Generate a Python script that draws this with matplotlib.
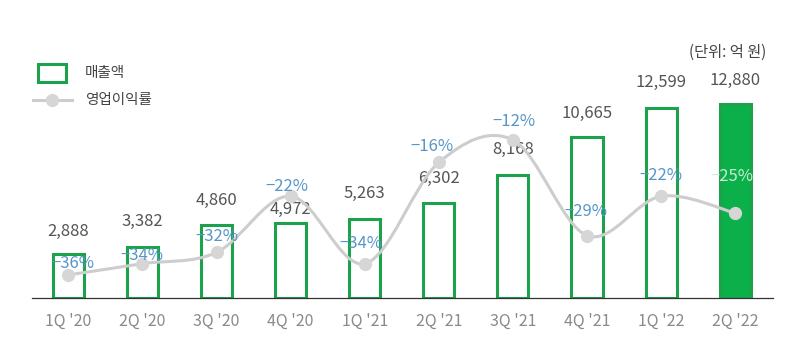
import numpy as np
import matplotlib
matplotlib.use("Agg")
import matplotlib.pyplot as plt
from matplotlib.path import Path
from matplotlib.patches import PathPatch, Rectangle
from matplotlib.lines import Line2D

plt.rcParams['font.family'] = ['Noto Sans CJK KR', 'DejaVu Sans']
plt.rcParams['font.weight'] = 'light'

# data
quarters = ["1Q '20", "2Q '20", "3Q '20", "4Q '20", "1Q '21",
            "2Q '21", "3Q '21", "4Q '21", "1Q '22", "2Q '22"]
revenue = [2888, 3382, 4860, 4972, 5263, 6302, 8168, 10665, 12599, 12880]
margin = [-36, -34, -32, -22, -34, -16, -12, -29, -22, -25]

# label placement (pixels), not data
rev_dy = [23, 25, 24, 13, 25, 24, 25, 24, 25, 23]
pct_off = [(5, 11), (-1, 8), (0, 16), (-4, 10), (-4, 20),
           (-7, 16), (1, 18), (-1, 24), (0, 21), (-3, 37)]

GREEN_EDGE = '#1ba24a'
GREEN_FILL = '#0cb04a'
LINE_GRAY = '#cdcdcd'
BLUE = '#5796c8'

W, H = 800, 355
fig = plt.figure(figsize=(W / 100, H / 100), dpi=100)
ax = fig.add_axes([32 / W, (H - 298) / H, (773 - 32) / W, 278 / H])
ax2 = ax.twinx()

x = np.arange(len(quarters))
faces = ['white'] * (len(x) - 1) + [GREEN_FILL]
ax.bar(x, revenue, width=0.42, color=faces, edgecolor=GREEN_EDGE, linewidth=2.2, zorder=2)

ax.set_xlim(-0.49, 9.51)
ax.set_ylim(0, 18410)
ax2.set_ylim(-40.1, 9.33)

for a in (ax, ax2):
    for s in a.spines.values():
        s.set_visible(False)
    a.set_yticks([])
ax.spines['bottom'].set_visible(True)
ax.spines['bottom'].set_color('#333333')
ax.spines['bottom'].set_linewidth(0.9)

ax.set_xticks(x)
ax.set_xticklabels(quarters, fontsize=11.5, color='#8a8a8a')
ax.tick_params(axis='x', length=0, pad=11)

for xi, v, dy in zip(x, revenue, rev_dy):
    ax.annotate(f"{v:,}", (xi, v), xytext=(0, dy), textcoords='offset pixels',
                ha='center', va='center', fontsize=12, color='#555555')

# smooth line (Catmull-Rom -> cubic Bezier)
pts = np.column_stack([x, margin]).astype(float)
verts = [tuple(pts[0])]
codes = [Path.MOVETO]
n = len(pts)
for i in range(n - 1):
    p0 = pts[max(i - 1, 0)]
    p1 = pts[i]
    p2 = pts[i + 1]
    p3 = pts[min(i + 2, n - 1)]
    c1 = p1 + (p2 - p0) / 6
    c2 = p2 - (p3 - p1) / 6
    verts += [tuple(c1), tuple(c2), tuple(p2)]
    codes += [Path.CURVE4] * 3
ax2.add_patch(PathPatch(Path(verts, codes), facecolor='none', edgecolor=LINE_GRAY,
                        linewidth=2.2, zorder=3))
ax2.plot(x, margin, 'o', color='#d6d6d6', markersize=8.5, zorder=4)

for i, (xi, v) in enumerate(zip(x, margin)):
    dx, dy = pct_off[i]
    col = '#c6eed2' if i == len(x) - 1 else BLUE
    ax2.annotate(f"\u2212{abs(v)}%", (xi, v), xytext=(dx, dy), textcoords='offset pixels',
                 ha='center', va='center', fontsize=12, color=col, zorder=5)

# legend (drawn by hand)
fig.patches.append(Rectangle((38 / W, 1 - 82 / H), 28 / W, 18 / H, transform=fig.transFigure,
                             facecolor='white', edgecolor=GREEN_EDGE, linewidth=2.2))
fig.add_artist(Line2D([33 / W, 72 / W], [1 - 100 / H] * 2, color=LINE_GRAY, linewidth=2.2))
fig.add_artist(Line2D([52 / W], [1 - 100 / H], marker='o', color='#d6d6d6', markersize=8.5))
fig.text(85 / W, 1 - 73 / H, "매출액", fontsize=10.5, color='#444444', va='center')
fig.text(85 / W, 1 - 100 / H, "영업이익률", fontsize=10.5, color='#444444', va='center')
fig.text(728 / W, 1 - 52 / H, "(단위: 억 원)", fontsize=11, color='#444444', va='center', ha='center')

fig.savefig('out.png', dpi=100, facecolor='white')
